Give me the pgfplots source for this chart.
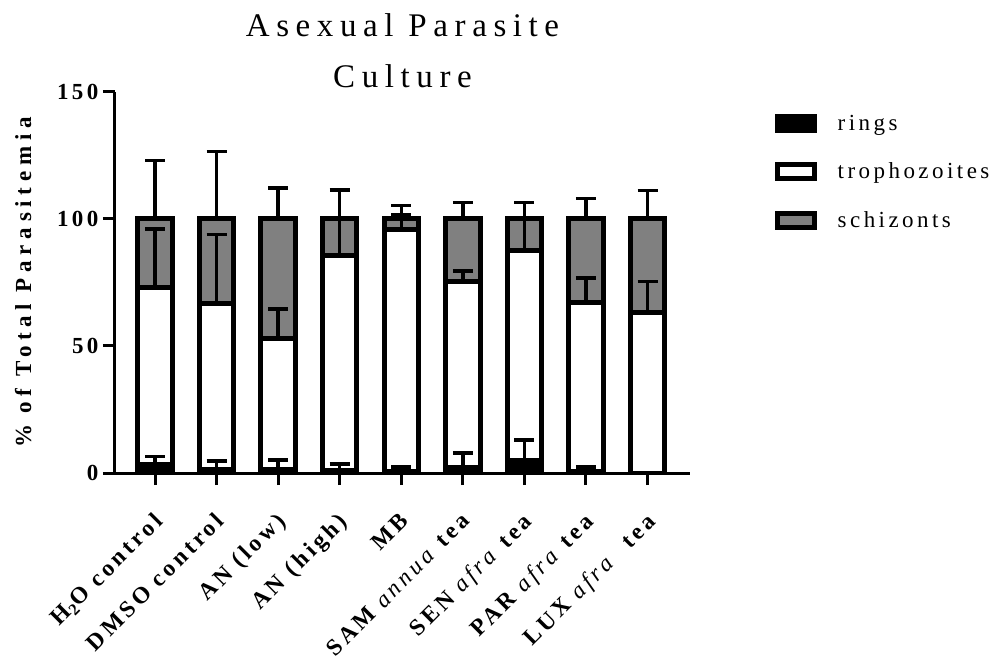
\documentclass[border=0pt]{standalone}
\usepackage{pgfplots}
\pgfplotsset{compat=1.18}
\usepackage{pgfplotstable}
\usepackage{fontspec}
\setmainfont{Liberation Serif}
\newfontfamily\titlefam[LetterSpace=20]{Liberation Serif}
\newfontfamily\tickfam[LetterSpace=15]{Liberation Serif}
\newfontfamily\legfam[LetterSpace=15]{Liberation Serif}
\newfontfamily\labfam[LetterSpace=15]{Liberation Serif}
\newfontfamily\ylabfam[LetterSpace=25]{Liberation Serif}
\definecolor{schiz}{HTML}{808080}

\pgfplotstableread{
x r t s er et es
0 3.2 69.8 27.0 3.3 23.0 23.0
1 1.5 65.3 33.2 3.3 27.0 26.5
2 1.5 51.5 47.0 3.7 11.5 12.3
3 1.0 84.7 14.3 2.5 14.8 11.5
4 0.5 95.3 4.2 1.8 5.9 5.4
5 2.0 73.4 24.6 5.9 4.1 6.4
6 5.1 82.5 12.4 7.8 12.4 6.4
7 0.5 66.6 32.9 1.8 9.6 8.0
8 0.0 63.3 36.7 0.0 12.1 11.3
}\data

\pgfplotsset{
  common/.style={
    scale only axis, width=575pt, height=381pt,
    xmin=-0.65, xmax=8.69, ymin=0, ymax=150,
    at={(0pt,0pt)}, anchor=south west,
  }
}

\begin{document}
\begin{tikzpicture}
\useasboundingbox (-115pt,-190pt) rectangle (888pt,473pt);
\begin{axis}[common, name=main,
  ybar stacked, bar width=0.56,
  axis lines=left, axis line style={-, line width=3pt},
  tick align=outside, major tick length=12pt,
  tick style={line width=3pt, black},
  xtick={0,...,8}, ytick={0,50,100,150},
  /pgf/number format/assume math mode=true,
  yticklabel style={font=\tickfam\bfseries\fontsize{23pt}{27pt}\selectfont, xshift=-1pt},
  xticklabels={{H\textsubscript{2}O control},{DMSO control},{AN (low)},{AN (high)},{MB},
    {SAM \textit{\mdseries annua} tea},{SEN \textit{\mdseries afra} tea},{PAR \textit{\mdseries afra} tea},{LUX \textit{\mdseries afra}\ \ tea}},
  xticklabel style={font=\labfam\bfseries\fontsize{23.5pt}{28pt}\selectfont, rotate=45, anchor=north east, xshift=-17pt, yshift=-13pt},
  ylabel={\% of Total Parasitemia},
  ylabel style={font=\ylabfam\bfseries\fontsize{23pt}{27pt}\selectfont, at={(axis description cs:0,0.5)}, anchor=south, yshift=80pt},
  legend image code/.code={\draw[#1] (0pt,-7pt) rectangle (37pt,7pt); \path[draw=none, fill=none] (0pt,0pt) -- (58pt,0pt);},
  legend style={at={(axis description cs:1,1)}, anchor=north west, xshift=82pt, yshift=-19pt,
    draw=none, fill=none, font=\legfam\fontsize{23pt}{27pt}\selectfont, row sep=27pt},
  legend cell align=left,
]
\addplot[fill=black, draw=black, line width=5pt] table[x=x, y=r] {\data};
\addlegendentry{rings}
\addplot[fill=white, draw=black, line width=5pt] table[x=x, y=t] {\data};
\addlegendentry{trophozoites}
\addplot[fill=schiz, draw=black, line width=5pt] table[x=x, y=s] {\data};
\addlegendentry{schizonts}
\end{axis}
\begin{axis}[common, hide axis]
\addplot[draw=none, mark=none, forget plot,
  error bars/.cd, y dir=plus, y explicit,
  error bar style={draw=black, line width=3.5pt},
  error mark options={draw=black, line width=3.5pt, mark size=10pt, rotate=90}]
  table[x=x, y=r, y error=er] {\data};
\addplot[draw=none, mark=none, forget plot,
  error bars/.cd, y dir=plus, y explicit,
  error bar style={draw=black, line width=3.5pt},
  error mark options={draw=black, line width=3.5pt, mark size=10pt, rotate=90}]
  table[x=x, y expr=\thisrow{r}+\thisrow{t}, y error=et] {\data};
\addplot[draw=none, mark=none, forget plot,
  error bars/.cd, y dir=plus, y explicit,
  error bar style={draw=black, line width=3.5pt},
  error mark options={draw=black, line width=3.5pt, mark size=10pt, rotate=90}]
  table[x=x, y expr=\thisrow{r}+\thisrow{t}+\thisrow{s}, y error=es] {\data};
\end{axis}
\node[font=\titlefam\fontsize{33pt}{40pt}\selectfont, anchor=base] at ([yshift=4pt]main.north) {Culture};
\node[font=\titlefam\fontsize{33pt}{40pt}\selectfont, anchor=base] at ([yshift=55pt]main.north) {Asexual Parasite};
\end{tikzpicture}
\end{document}
